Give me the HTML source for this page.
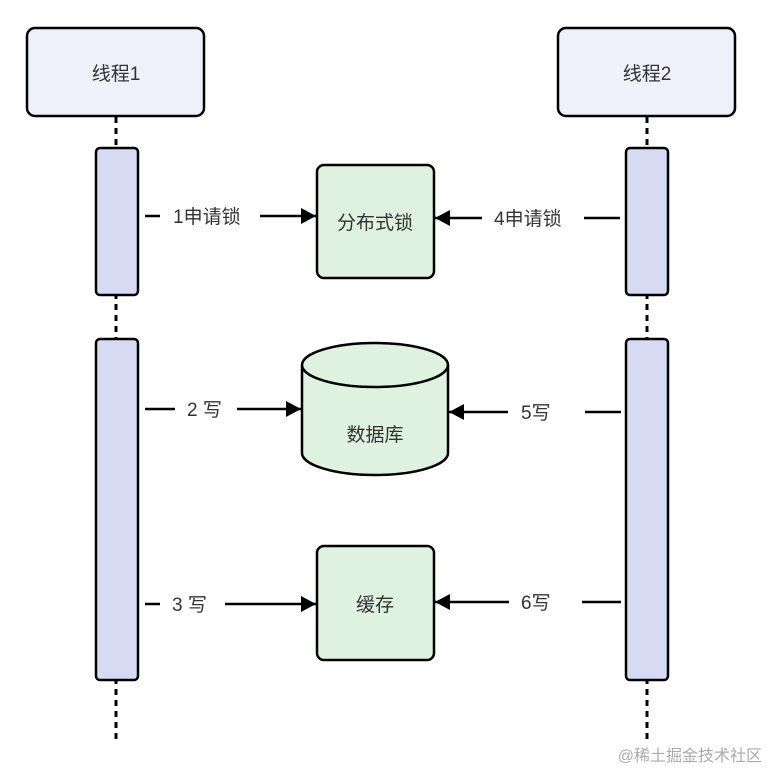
<!DOCTYPE html>
<html><head><meta charset="utf-8"><style>
html,body{margin:0;padding:0;background:#fff;}
svg{display:block;}
text{font-family:"Liberation Sans","Noto Sans CJK SC",sans-serif;fill:#333;}
</style></head><body>
<svg width="767" height="771" viewBox="0 0 767 771" xmlns="http://www.w3.org/2000/svg">
<defs>
<marker id="ah" markerWidth="15" markerHeight="16" refX="15" refY="8" orient="auto" markerUnits="userSpaceOnUse" viewBox="0 0 15 16">
<path d="M0,0 L15,8 L0,16 z" fill="#000"/></marker>
</defs>
<g stroke="#000" stroke-width="3" stroke-dasharray="6,5">
<line x1="116" y1="117" x2="116" y2="742"/>
<line x1="647" y1="117" x2="647" y2="742"/>
</g>
<rect x="27" y="28" width="177" height="88" rx="8" fill="#eff1fa" stroke="#000" stroke-width="2.5"/>
<rect x="558" y="28" width="177" height="88" rx="8" fill="#eff1fa" stroke="#000" stroke-width="2.5"/>
<text x="116" y="80" font-size="19" text-anchor="middle">线程1</text>
<text x="647" y="80" font-size="19" text-anchor="middle">线程2</text>
<g fill="#d6daf2" stroke="#000" stroke-width="2.5">
<rect x="96" y="148" width="42" height="147" rx="4"/>
<rect x="96" y="339" width="42" height="341" rx="4"/>
<rect x="626" y="148" width="42" height="147" rx="4"/>
<rect x="626" y="339" width="42" height="341" rx="4"/>
</g>
<rect x="317" y="165" width="117" height="113" rx="7" fill="#dff2df" stroke="#000" stroke-width="2.5"/>
<text x="375" y="229" font-size="19" text-anchor="middle">分布式锁</text>
<path d="M302,365 A73,22 0 0 1 448,365 L448,453 A73,22 0 0 1 302,453 Z" fill="#dff2df" stroke="#000" stroke-width="2.5"/>
<path d="M302,365 A73,22 0 0 0 448,365" fill="none" stroke="#000" stroke-width="2.5"/>
<text x="375" y="441" font-size="19" text-anchor="middle">数据库</text>
<rect x="317" y="546" width="117" height="114" rx="7" fill="#dff2df" stroke="#000" stroke-width="2.5"/>
<text x="375" y="611" font-size="19" text-anchor="middle">缓存</text>
<g stroke="#000" stroke-width="2.5" fill="none">
<line x1="145" y1="216" x2="160" y2="216"/>
<line x1="260" y1="216" x2="316" y2="216" marker-end="url(#ah)"/>
<line x1="620" y1="218" x2="584" y2="218"/>
<line x1="482" y1="218" x2="435" y2="218" marker-end="url(#ah)"/>
<line x1="145" y1="409" x2="175" y2="409"/>
<line x1="237" y1="409" x2="301" y2="409" marker-end="url(#ah)"/>
<line x1="621" y1="412" x2="585" y2="412"/>
<line x1="508" y1="412" x2="449" y2="412" marker-end="url(#ah)"/>
<line x1="145" y1="604" x2="160" y2="604"/>
<line x1="225" y1="604" x2="316" y2="604" marker-end="url(#ah)"/>
<line x1="621" y1="602" x2="582" y2="602"/>
<line x1="509" y1="602" x2="435" y2="602" marker-end="url(#ah)"/>
</g>
<g font-size="19">
<text x="173" y="223">1申请锁</text>
<text x="494" y="225">4申请锁</text>
<text x="187" y="416">2 写</text>
<text x="521" y="419">5写</text>
<text x="172" y="611">3 写</text>
<text x="521" y="609">6写</text>
</g>
<text x="762" y="761" font-size="16" text-anchor="end" style="fill:#aaa">@稀土掘金技术社区</text>
</svg>
</body></html>
